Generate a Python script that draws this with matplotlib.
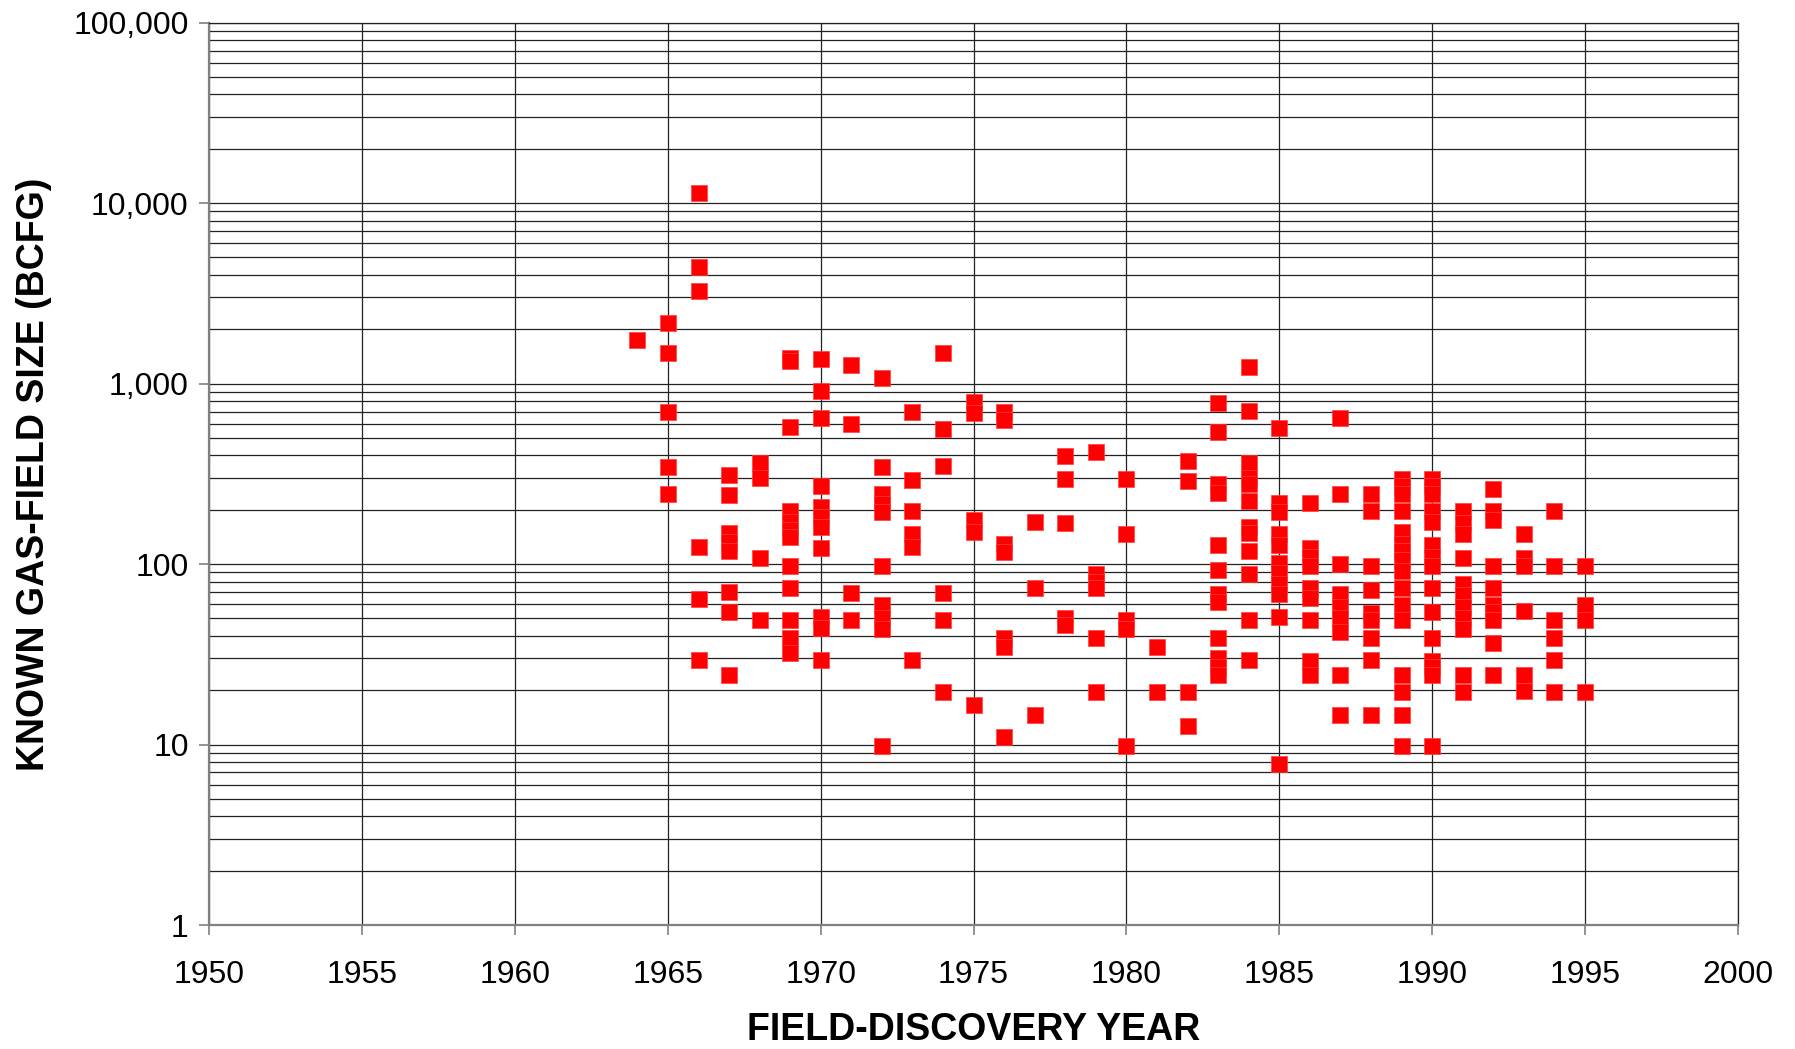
import numpy as np
import matplotlib
matplotlib.use("Agg")
import matplotlib.pyplot as plt
from matplotlib.ticker import FixedLocator, LogLocator, NullFormatter

plt.rcParams['font.family'] = ['Liberation Sans', 'DejaVu Sans']

# discovery years and the known field sizes (BCFG) found in each year
years = [1964, 1965, 1966, 1967, 1968, 1969, 1970, 1971, 1972, 1973, 1974,
         1975, 1976, 1977, 1978, 1979, 1980, 1981, 1982, 1983, 1984, 1985,
         1986, 1987, 1988, 1989, 1990, 1991, 1992, 1993, 1994, 1995]
sizes = [
    [1750],
    [2180, 1480, 693, 346, 246],
    [11430, 4430, 3275, 125, 64, 29.5],
    [310, 240, 148, 132, 118, 70, 54, 24.4],
    [362, 300, 108, 49],
    [1384, 1330, 572, 196, 170, 155, 142, 98, 74, 49, 39, 32],
    [1366, 911, 644, 270, 206, 182, 161, 123, 51, 44, 29.5],
    [1270, 594, 69, 49],
    [1071, 343, 246, 215, 195, 98, 59, 50.5, 43.5, 9.8],
    [693, 294, 196, 147, 125, 29.5],
    [1480, 558, 349, 69, 49, 19.6],
    [789, 690, 176, 150, 16.6],
    [693, 626, 130, 117, 38.8, 34.6, 11],
    [170, 74, 14.6],
    [396, 296, 168, 50, 46],
    [416, 88, 80, 74, 39, 19.6],
    [296, 147, 49, 43.5, 9.8],
    [34.5, 19.6],
    [372, 288, 19.6, 12.7],
    [778, 537, 276, 248, 127, 93, 68, 62, 39, 30, 27, 24.3],
    [1233, 705, 362, 300, 276, 223, 161, 148, 118, 88, 49, 29.5],
    [567, 217, 195, 147, 128, 102, 89, 78, 68, 51, 7.8],
    [217, 123, 110, 98, 74, 65, 49, 29, 24.3],
    [644, 246, 100, 68, 58, 50, 42, 24.4, 14.6],
    [246, 196, 98, 72, 53.7, 49, 39, 29.5, 14.6],
    [297, 270, 245, 196, 150, 130, 118, 105, 92, 74, 59, 49, 24.4, 19.6, 14.6, 9.8],
    [297, 270, 245, 196, 170, 128, 110, 98, 74, 54, 39, 29, 27, 24.3, 9.8],
    [196, 168, 146, 108, 78, 67.5, 58, 50, 43.5, 24.4, 19.6],
    [262, 196, 176, 98, 74, 59, 54, 49, 36.3, 24.4],
    [147, 108, 98, 55, 24.3, 19.7],
    [196, 98, 49, 39, 29.5, 19.6],
    [98, 59, 49, 19.6],
]

x_ticks = [1950, 1955, 1960, 1965, 1970, 1975, 1980, 1985, 1990, 1995, 2000]
y_ticks = [1, 10, 100, 1000, 10000, 100000]
y_labels = ["1", "10", "100", "1,000", "10,000", "100,000"]

xs = []
ys = []
for yr, vals in zip(years, sizes):
    for v in vals:
        xs.append(yr)
        ys.append(v)

fig = plt.figure(figsize=(17.95, 10.49), dpi=100)
ax = fig.add_axes([0.1167, 0.1182, 0.8514, 0.8602])

ax.set_yscale('log')
ax.set_xlim(1950, 2000)
ax.set_ylim(1, 100000)

ax.xaxis.set_major_locator(FixedLocator(x_ticks))
ax.set_xticklabels([str(t) for t in x_ticks])
ax.yaxis.set_major_locator(FixedLocator(y_ticks))
ax.yaxis.set_minor_locator(LogLocator(base=10, subs=np.arange(2, 10)))
ax.yaxis.set_minor_formatter(NullFormatter())
ax.set_yticklabels(y_labels)

ax.grid(True, which='major', axis='both', color='#222222', linewidth=0.9)
ax.grid(True, which='minor', axis='y', color='#222222', linewidth=0.9)
ax.set_axisbelow(True)

ax.tick_params(axis='both', which='major', direction='out', length=7,
               width=1.2, color='#808080', labelsize=23, pad=8)
ax.tick_params(axis='x', which='major', pad=18)
ax.tick_params(axis='y', which='minor', length=0)

for side in ['left', 'bottom']:
    ax.spines[side].set_color('#808080')
    ax.spines[side].set_linewidth(1.6)
for side in ['right', 'top']:
    ax.spines[side].set_color('#222222')
    ax.spines[side].set_linewidth(0.9)

ax.scatter(xs, ys, marker='s', s=130, color='#ff0000', edgecolors='#ff4040',
           linewidths=0.5, zorder=3)

ax.set_xlabel("FIELD-DISCOVERY YEAR", fontsize=27, fontweight='bold', labelpad=16)
ax.set_ylabel("KNOWN GAS-FIELD SIZE (BCFG)", fontsize=27, fontweight='bold', labelpad=15)

fig.savefig("out.png", dpi=100)
